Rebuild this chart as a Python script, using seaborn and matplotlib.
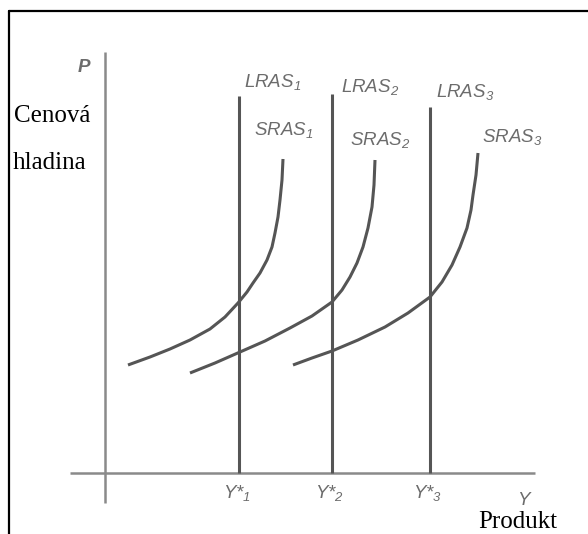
import pandas as pd
import matplotlib.pyplot as plt
import matplotlib.lines as mlines
import seaborn as sns

# values (output Y on x, price level P on y)
sras1_y = [2.3, 4.5, 6.5, 8.5, 10.5, 12.0, 13.3, 14.2, 14.8, 15.5, 16.2, 16.7, 17.0, 17.3, 17.5, 17.7, 17.8]
sras1_p = [10.8, 11.6, 12.4, 13.3, 14.4, 15.6, 17.0, 18.1, 19.0, 20.0, 21.3, 22.6, 24.0, 25.6, 27.3, 29.3, 31.4]
sras2_y = [8.5, 11.0, 13.5, 16.0, 18.5, 20.7, 22.7, 23.7, 24.5, 25.2, 25.8, 26.3, 26.7, 26.9, 27.0]
sras2_p = [10.0, 11.0, 12.1, 13.2, 14.5, 15.7, 17.1, 18.3, 19.6, 21.0, 22.6, 24.5, 26.6, 28.8, 31.3]
sras3_y = [18.8, 20.7, 22.7, 25.3, 28.0, 30.3, 32.5, 33.7, 34.7, 35.5, 36.2, 36.6, 36.8, 37.1, 37.3]
sras3_p = [10.8, 11.5, 12.2, 13.3, 14.6, 16.0, 17.6, 19.1, 20.8, 22.6, 24.5, 26.3, 27.8, 29.8, 32.0]

lras_y = [13.4, 22.7, 32.5]
lras_top = [37.7, 37.9, 36.6]
lras_labels = ['LRAS$_1$', 'LRAS$_2$', 'LRAS$_3$']
sras_labels = ['SRAS$_1$', 'SRAS$_2$', 'SRAS$_3$']
ystar_labels = ['Y*$_1$', 'Y*$_2$', 'Y*$_3$']

# axis extents
x_axis = [-3.5, 43.0]
y_axis = [-3.0, 42.1]

sras = pd.concat([
    pd.DataFrame({'Y': sras1_y, 'P': sras1_p, 'curve': 'SRAS1'}),
    pd.DataFrame({'Y': sras2_y, 'P': sras2_p, 'curve': 'SRAS2'}),
    pd.DataFrame({'Y': sras3_y, 'P': sras3_p, 'curve': 'SRAS3'}),
])
lras = pd.DataFrame({
    'Y': [v for v in lras_y for _ in range(2)],
    'P': [p for t in lras_top for p in (0, t)],
    'curve': [f'LRAS{i}' for i in range(1, 4) for _ in range(2)],
})

sns.set_theme(style='white')
plt.rcParams['mathtext.fontset'] = 'custom'
plt.rcParams['mathtext.rm'] = 'Liberation Sans:italic'
plt.rcParams['mathtext.it'] = 'Liberation Sans:italic'

fig = plt.figure(figsize=(5.88, 5.34), dpi=100)
ax = fig.add_axes([0, 0, 1, 1])
ax.set_xlim(-10.5, 48.3)
ax.set_ylim(-6.1, 47.3)
ax.axis('off')

axis_col = '#8a8a8a'
line_col = '#555555'
text_col = '#6c6c6c'

# axes of the diagram
ax.plot([0, 0], y_axis, color=axis_col, lw=1.8, solid_capstyle='butt')
ax.plot(x_axis, [0, 0], color=axis_col, lw=1.8, solid_capstyle='butt')

sns.lineplot(data=lras, x='Y', y='P', hue='curve', units='curve', estimator=None,
             palette=[line_col] * 3, lw=2.2, legend=False, ax=ax, sort=False)
sns.lineplot(data=sras, x='Y', y='P', hue='curve', units='curve', estimator=None,
             palette=[line_col] * 3, lw=2.2, legend=False, ax=ax, sort=False)
for ln in ax.lines:
    ln.set_solid_capstyle('butt')
    ln.set_solid_joinstyle('round')


def px(x, y):
    # pixel position in the picture -> data coordinates
    return (x - 105) / 10, (473 - y) / 10


gray = dict(family='Liberation Sans', style='italic', color=text_col, fontsize=13.5)
serif = dict(family='Liberation Serif', color='black', fontsize=18)

for lab, pos in zip(lras_labels, [(244, 87), (341, 92), (436, 97)]):
    ax.text(*px(*pos), lab, va='baseline', ha='left', **gray)
for lab, pos in zip(sras_labels, [(254, 135), (350, 145), (482, 142)]):
    ax.text(*px(*pos), lab, va='baseline', ha='left', **gray)
for lab, pos in zip(ystar_labels, [(223, 498), (315, 498), (413, 498)]):
    ax.text(*px(*pos), lab, va='baseline', ha='left', **gray)
ax.text(*px(517, 505), 'Y', va='baseline', ha='left', **gray)
ax.text(*px(78, 72), 'P', va='baseline', ha='left', fontweight='bold', **gray)

ax.text(*px(14, 122), 'Cenová', va='baseline', ha='left', **serif)
ax.text(*px(13, 169), 'hladina', va='baseline', ha='left', **serif)
ax.text(*px(478, 528), 'Produkt', va='baseline', ha='left', **serif)

# frame visible at top and left only
fx, fy = 9 / 588, 1 - 11 / 534
fig.add_artist(mlines.Line2D([fx, 1], [fy, fy], color='black', lw=1.6, transform=fig.transFigure))
fig.add_artist(mlines.Line2D([fx, fx], [0, fy], color='black', lw=1.6, transform=fig.transFigure))

fig.savefig('out.png', dpi=100)
